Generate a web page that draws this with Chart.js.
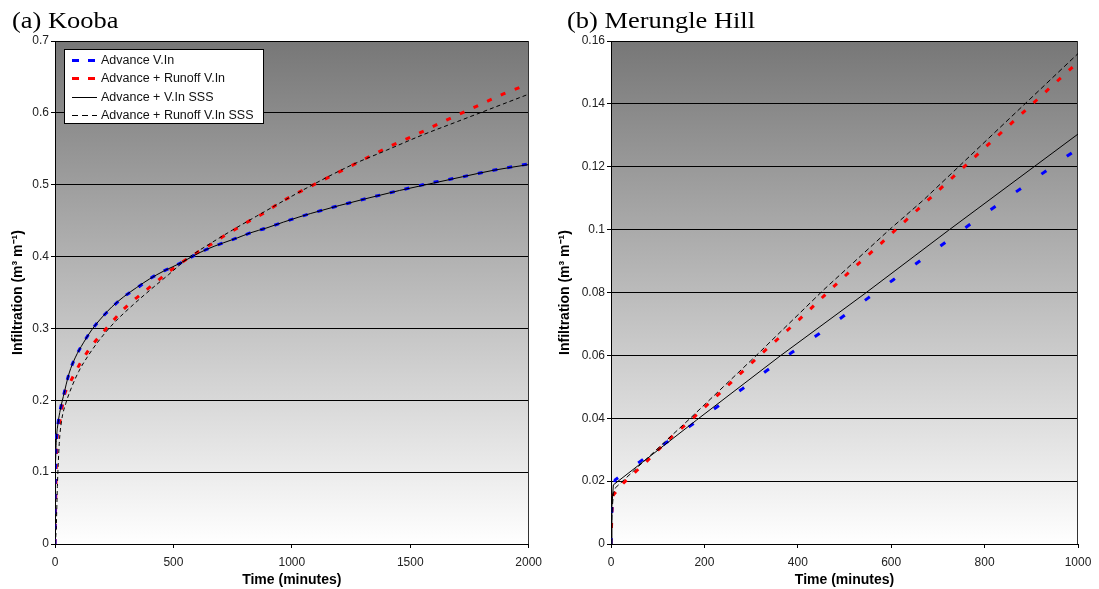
<!DOCTYPE html>
<html>
<head>
<meta charset="utf-8">
<script src="https://cdn.jsdelivr.net/npm/chart.js@4.4.0/dist/chart.umd.min.js"></script>
<style>
  body { margin: 0; width: 1099px; height: 589px; background: #fff; position: relative; overflow: hidden; }
  .panel { position: absolute; top: 0; width: 549px; height: 589px; }
  .panel h2 {
    position: absolute; top: 9px; margin: 0; z-index: 2;
    font: normal 23px/23px "Liberation Serif", "Times New Roman", serif; color: #000;
    transform: scaleX(1.15); transform-origin: left top; white-space: nowrap;
  }
</style>
</head>
<body>
<div class="panel" style="left:0">
  <h2 style="left:12px">(a) Kooba</h2>
  <canvas id="koobaChart" width="549" height="589"></canvas>
</div>
<div class="panel" style="left:550px">
  <h2 style="left:17px">(b) Merungle Hill</h2>
  <canvas id="merungleChart" width="549" height="589"></canvas>
</div>
<script>
// ---- Kooba (minutes, m3/m) ----
const koobaAdvTime = [0, 1, 3, 6, 10, 20, 35, 60, 85, 120, 155, 200, 240, 290, 345, 400, 460, 530, 585, 640, 710, 770, 825, 895, 965, 1030, 1080, 1200, 1330, 1455, 1580, 1720, 1850, 2000];
const koobaAdvInf = [0, 0.08, 0.12, 0.145, 0.16, 0.183, 0.205, 0.238, 0.259, 0.28, 0.298, 0.316, 0.329, 0.344, 0.356, 0.369, 0.38, 0.391, 0.401, 0.41, 0.419, 0.426, 0.433, 0.44, 0.448, 0.455, 0.46, 0.471, 0.482, 0.492, 0.502, 0.511, 0.52, 0.529];

const koobaRunTime = [0, 3, 7, 15, 24, 38, 60, 84, 115, 151, 190, 236, 278, 331, 380, 436, 485, 541, 598, 654, 710, 767, 823, 879, 935, 992, 1111, 1231, 1350, 1411, 1533, 1653, 1772, 1891, 2000];
const koobaRunInf = [0, 0.06, 0.135, 0.16, 0.177, 0.205, 0.222, 0.238, 0.256, 0.274, 0.29, 0.307, 0.323, 0.339, 0.352, 0.367, 0.38, 0.393, 0.405, 0.416, 0.428, 0.439, 0.45, 0.46, 0.472, 0.483, 0.503, 0.523, 0.543, 0.553, 0.571, 0.59, 0.608, 0.626, 0.64];

const koobaAdvSssTime = [0, 1, 3, 6, 10, 20, 35, 60, 85, 120, 155, 200, 240, 290, 345, 400, 460, 530, 585, 640, 710, 770, 825, 895, 965, 1030, 1080, 1200, 1330, 1455, 1580, 1720, 1850, 2000];
const koobaAdvSssInf = [0, 0.085, 0.122, 0.146, 0.161, 0.183, 0.205, 0.238, 0.259, 0.28, 0.298, 0.316, 0.33, 0.344, 0.357, 0.369, 0.38, 0.391, 0.401, 0.41, 0.419, 0.426, 0.433, 0.44, 0.448, 0.455, 0.46, 0.471, 0.482, 0.492, 0.501, 0.511, 0.52, 0.528];

const koobaRunSssTime = [0, 5, 10, 18, 28, 45, 70, 100, 140, 190, 250, 320, 400, 480, 570, 650, 750, 850, 1000, 1100, 1250, 1400, 1550, 1700, 1850, 2000];
const koobaRunSssInf = [0, 0.02, 0.08, 0.14, 0.172, 0.195, 0.218, 0.24, 0.262, 0.285, 0.308, 0.33, 0.353, 0.375, 0.4, 0.417, 0.437, 0.456, 0.484, 0.502, 0.527, 0.548, 0.569, 0.588, 0.607, 0.626];

const koobaXTicks = [0, 500, 1000, 1500, 2000];
const koobaYTicks = [0, 0.1, 0.2, 0.3, 0.4, 0.5, 0.6, 0.7];

// ---- Merungle Hill ----
const merAdvTime = [0, 2, 5, 9, 62, 116, 169, 226, 280, 333, 387, 444, 498, 551, 604, 659, 715, 769, 822, 1000];
const merAdvInf = [0, 0.012, 0.018, 0.0204, 0.0262, 0.032, 0.0375, 0.0435, 0.0492, 0.0551, 0.0609, 0.0667, 0.0725, 0.0783, 0.084, 0.0898, 0.0958, 0.1017, 0.1073, 0.1258];

const merRunTime = [0, 2, 5, 26, 76, 124, 173, 223, 270, 319, 369, 419, 467, 515, 565, 615, 665, 800, 1000];
const merRunInf = [0, 0.01, 0.0156, 0.0193, 0.0262, 0.0333, 0.0397, 0.0466, 0.0532, 0.0601, 0.0668, 0.0736, 0.0805, 0.0872, 0.0938, 0.1007, 0.1075, 0.126, 0.1533];

const merAdvSssTime = [0, 2, 5, 183, 362, 544, 722, 1000];
const merAdvSssInf = [0, 0.012, 0.0188, 0.0394, 0.0598, 0.0797, 0.0997, 0.1304];

const merRunSssTime = [0, 2, 5, 9, 169, 312, 455, 594, 669, 1000];
const merRunSssInf = [0, 0.01, 0.016, 0.0178, 0.0399, 0.0601, 0.0808, 0.0997, 0.1094, 0.156];

const merXTicks = [0, 200, 400, 600, 800, 1000];
const merYTicks = [0, 0.02, 0.04, 0.06, 0.08, 0.1, 0.12, 0.14, 0.16];

const seriesLabels = ["Advance V.In", "Advance + Runoff V.In", "Advance + V.In SSS", "Advance + Runoff V.In SSS"];

const toPoints = (t, v) => t.map((x, i) => ({ x: x, y: v[i] }));

const tickFont = { family: "'Liberation Sans', Arial, sans-serif", size: 12 };
const titleFont = { family: "'Liberation Sans', Arial, sans-serif", size: 14, weight: "bold" };

// grey-to-white fill behind the plot, plus the right-hand frame edge
const plotBackground = {
  id: "plotBackground",
  beforeDraw(chart) {
    const { ctx, chartArea: a } = chart;
    const g = ctx.createLinearGradient(0, a.top, 0, a.bottom);
    g.addColorStop(0, "#777777");
    g.addColorStop(1, "#ffffff");
    ctx.save();
    ctx.fillStyle = g;
    ctx.fillRect(a.left, a.top, a.width, a.height);
    ctx.restore();
  },
  beforeDatasetsDraw(chart) {
    const { ctx, chartArea: a } = chart;
    ctx.save();
    ctx.strokeStyle = "#333";
    ctx.lineWidth = 1;
    ctx.beginPath();
    ctx.moveTo(Math.round(a.right) - 0.5, a.top);
    ctx.lineTo(Math.round(a.right) - 0.5, a.bottom);
    ctx.stroke();
    ctx.restore();
  }
};

// boxed legend sitting inside the plot, top-left
const boxLegend = {
  id: "boxLegend",
  afterDraw(chart, args, opts) {
    if (!opts.show) return;
    const { ctx, chartArea: a } = chart;
    const x = a.left + 9, y = a.top + 8, w = 199, h = 74, row = 18.6;
    ctx.save();
    ctx.fillStyle = "#fff";
    ctx.fillRect(x, y, w, h);
    ctx.strokeStyle = "#000";
    ctx.lineWidth = 1;
    ctx.strokeRect(x + 0.5, y + 0.5, w, h);
    ctx.font = "12.5px 'Liberation Sans', Arial, sans-serif";
    ctx.textBaseline = "middle";
    chart.data.datasets.forEach((ds, i) => {
      const cy = Math.round(y + 10.5 + i * row) + 0.5;
      ctx.strokeStyle = ds.borderColor;
      ctx.lineWidth = ds.borderWidth;
      ctx.setLineDash(ds.legendDash || []);
      ctx.beginPath();
      ctx.moveTo(x + 8, cy);
      ctx.lineTo(x + 33, cy);
      ctx.stroke();
      ctx.setLineDash([]);
      ctx.fillStyle = "#111";
      ctx.fillText(ds.label, x + 37, cy);
    });
    ctx.restore();
  }
};

function makeDatasets(series, dashes, smooth) {
  const colors = ["#0000ff", "#ff0000", "#000000", "#000000"];
  const widths = [3, 3, 1, 1];
  const legendDashes = [[7, 9], [7, 9], [], [6, 4]];
  return series.map((pts, i) => ({
    label: seriesLabels[i],
    data: pts,
    borderColor: colors[i],
    borderWidth: widths[i],
    borderDash: dashes[i],
    legendDash: legendDashes[i],
    pointRadius: 0,
    fill: false,
    tension: 0,
    cubicInterpolationMode: smooth ? "monotone" : "default",
    order: i < 2 ? 1 : 0
  }));
}

function makeScales(xTicks, yTicks, yAxisWidth, yTitlePad) {
  return {
    x: {
      type: "linear",
      min: xTicks[0],
      max: xTicks[xTicks.length - 1],
      afterBuildTicks: (s) => { s.ticks = xTicks.map(v => ({ value: v })); },
      afterFit: (s) => { s.height = 45; },
      ticks: { font: tickFont, color: "#222", padding: 7, maxRotation: 0, callback: (v) => String(v) },
      grid: { drawOnChartArea: false, drawTicks: true, tickLength: 4, color: "#000" },
      border: { color: "#000", width: 1 },
      title: { display: true, text: "Time (minutes)", font: titleFont, color: "#000", padding: { top: 0, bottom: 0 } }
    },
    y: {
      type: "linear",
      min: yTicks[0],
      max: yTicks[yTicks.length - 1],
      afterBuildTicks: (s) => { s.ticks = yTicks.map(v => ({ value: v })); },
      afterFit: (s) => { s.width = yAxisWidth; },
      ticks: { font: tickFont, color: "#222", padding: 2, callback: (v) => String(+v.toFixed(2)) },
      grid: { color: "#000", lineWidth: 1, drawTicks: true, tickLength: 4 },
      border: { color: "#000", width: 1 },
      title: { display: true, text: "Infiltration (m³ m⁻¹)", font: titleFont, color: "#000", padding: { top: yTitlePad, bottom: 0 } }
    }
  };
}

function makeOptions(xTicks, yTicks, yAxisWidth, yTitlePad, rightPad, withLegend) {
  return {
    responsive: false,
    animation: false,
    layout: { padding: { top: 41, right: rightPad, bottom: 0, left: 0 } },
    plugins: {
      legend: { display: false },
      tooltip: { enabled: false },
      boxLegend: { show: withLegend }
    },
    scales: makeScales(xTicks, yTicks, yAxisWidth, yTitlePad)
  };
}

new Chart(document.getElementById("koobaChart").getContext("2d"), {
  type: "line",
  data: {
    datasets: makeDatasets([
      toPoints(koobaAdvTime, koobaAdvInf),
      toPoints(koobaRunTime, koobaRunInf),
      toPoints(koobaAdvSssTime, koobaAdvSssInf),
      toPoints(koobaRunSssTime, koobaRunSssInf)
    ], [[5, 10], [5, 10], [], [4, 3]], true)
  },
  options: makeOptions(koobaXTicks, koobaYTicks, 55, 10, 20, true),
  plugins: [plotBackground, boxLegend]
});

new Chart(document.getElementById("merungleChart").getContext("2d"), {
  type: "line",
  data: {
    datasets: makeDatasets([
      toPoints(merAdvTime, merAdvInf),
      toPoints(merRunTime, merRunInf),
      toPoints(merAdvSssTime, merAdvSssInf),
      toPoints(merRunSssTime, merRunSssInf)
    ], [[6, 25], [5, 11], [], [5, 3]], false)
  },
  options: makeOptions(merXTicks, merYTicks, 61, 7, 21, false),
  plugins: [plotBackground, boxLegend]
});
</script>
</body>
</html>
